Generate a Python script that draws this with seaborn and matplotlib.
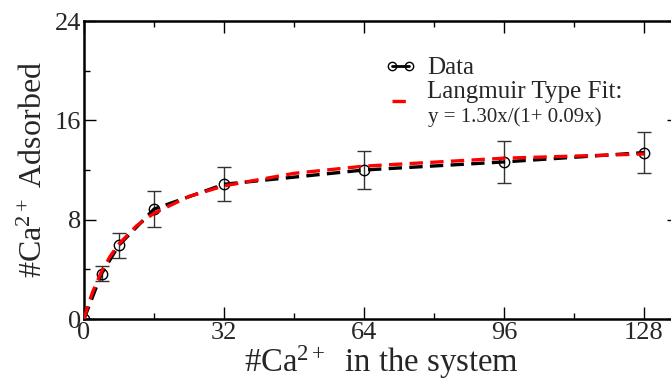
import matplotlib
matplotlib.use("Agg")
import matplotlib.pyplot as plt
from matplotlib.lines import Line2D
from matplotlib.legend_handler import HandlerLine2D
from matplotlib.ticker import MultipleLocator
import numpy as np
import seaborn as sns
import pandas as pd

# data
ca_total = [0, 4, 8, 16, 32, 64, 96, 128]
ca_adsorbed = [0.0, 3.65, 5.95, 8.85, 10.85, 12.0, 12.65, 13.4]
ca_err = [0.0, 0.6, 1.0, 1.42, 1.38, 1.5, 1.68, 1.65]

fit_x = [0, 1, 2, 4, 6, 8, 12, 16, 24, 32, 48, 64, 96, 128]
fit_y = [0.0, 1.19, 2.20, 3.82, 5.06, 6.05, 7.50, 8.52, 9.87, 10.72, 11.73, 12.31, 12.95, 13.29]

x_ticks = [0, 32, 64, 96, 128]
y_ticks = [0, 8, 16, 24]

sns.set_theme(style="ticks")
plt.rcParams["font.family"] = ["Liberation Serif", "DejaVu Serif"]
plt.rcParams["mathtext.fontset"] = "custom"
plt.rcParams["mathtext.rm"] = "Liberation Serif"
plt.rcParams["mathtext.it"] = "Liberation Serif:italic"

df = pd.DataFrame({"x": ca_total, "y": ca_adsorbed})
dfit = pd.DataFrame({"x": fit_x, "y": fit_y})

fig = plt.figure(figsize=(6.71, 3.88), dpi=100)
ax = fig.add_axes([84 / 671, 1 - 319 / 388, (679 - 84) / 671, (319 - 21) / 388])

ax.errorbar(ca_total, ca_adsorbed, yerr=ca_err, fmt="none", ecolor="#333333",
            elinewidth=1.0, capsize=5, capthick=1.0, zorder=2)
sns.lineplot(data=df, x="x", y="y", ax=ax, color="black", lw=2.4,
             linestyle=(0, (4, 2.2)), marker="o", markersize=7.5,
             markerfacecolor="none", markeredgecolor="black", markeredgewidth=1.0,
             zorder=3)
sns.lineplot(data=dfit, x="x", y="y", ax=ax, color="#ff0000", lw=2.4,
             linestyle=(0, (4, 2.2)), zorder=4)

ax.set_xlim(0, 136)
ax.set_ylim(0, 24)
ax.set_xticks(x_ticks)
ax.set_yticks(y_ticks)
ax.xaxis.set_minor_locator(MultipleLocator(16))
ax.yaxis.set_minor_locator(MultipleLocator(4))
ax.tick_params(which="both", direction="in", top=True, right=True, width=1.0,
               color="black", labelsize=19, pad=2)
ax.tick_params(which="major", length=8.5)
ax.tick_params(which="minor", length=4.5)
for s in ax.spines.values():
    s.set_linewidth(1.8)
    s.set_color("black")

ax.set_xlabel(r"#Ca$^{2+}$  in the system", fontsize=23.5, labelpad=0)
ax.set_ylabel(r"#Ca$^{2+}$ Adsorbed", fontsize=23, labelpad=4)


class HandlerShifted(HandlerLine2D):
    """Legend line drawn a little below the centre of its label."""
    def create_artists(self, legend, orig_handle, xdescent, ydescent,
                       width, height, fontsize, trans):
        arts = super().create_artists(legend, orig_handle, xdescent, ydescent,
                                      width, height, fontsize, trans)
        for a in arts:
            a.set_ydata(np.asarray(a.get_ydata()) - 0.65 * height)
        return arts


h_data = Line2D([0], [0], color="black", lw=2.0, marker="o", markersize=6,
                markerfacecolor="none", markeredgecolor="black", markeredgewidth=1.0)
h_fit = Line2D([0], [0], color="#ff0000", lw=2.4, linestyle=(0, (4, 2.2)))
leg = ax.legend([h_data, h_fit], ["Data", "Langmuir Type Fit:"],
                handler_map={h_fit: HandlerShifted()},
                loc="upper left", bbox_to_anchor=(0.488, 0.913), frameon=False,
                fontsize=18, handlelength=1.3, handletextpad=0.4,
                labelspacing=0.05, borderaxespad=0, numpoints=2)
ax.text(0.578, 0.678, "y = 1.30x/(1+ 0.09x)", transform=ax.transAxes,
        fontsize=15, ha="left", va="center")

fig.savefig("out.png", dpi=100)
